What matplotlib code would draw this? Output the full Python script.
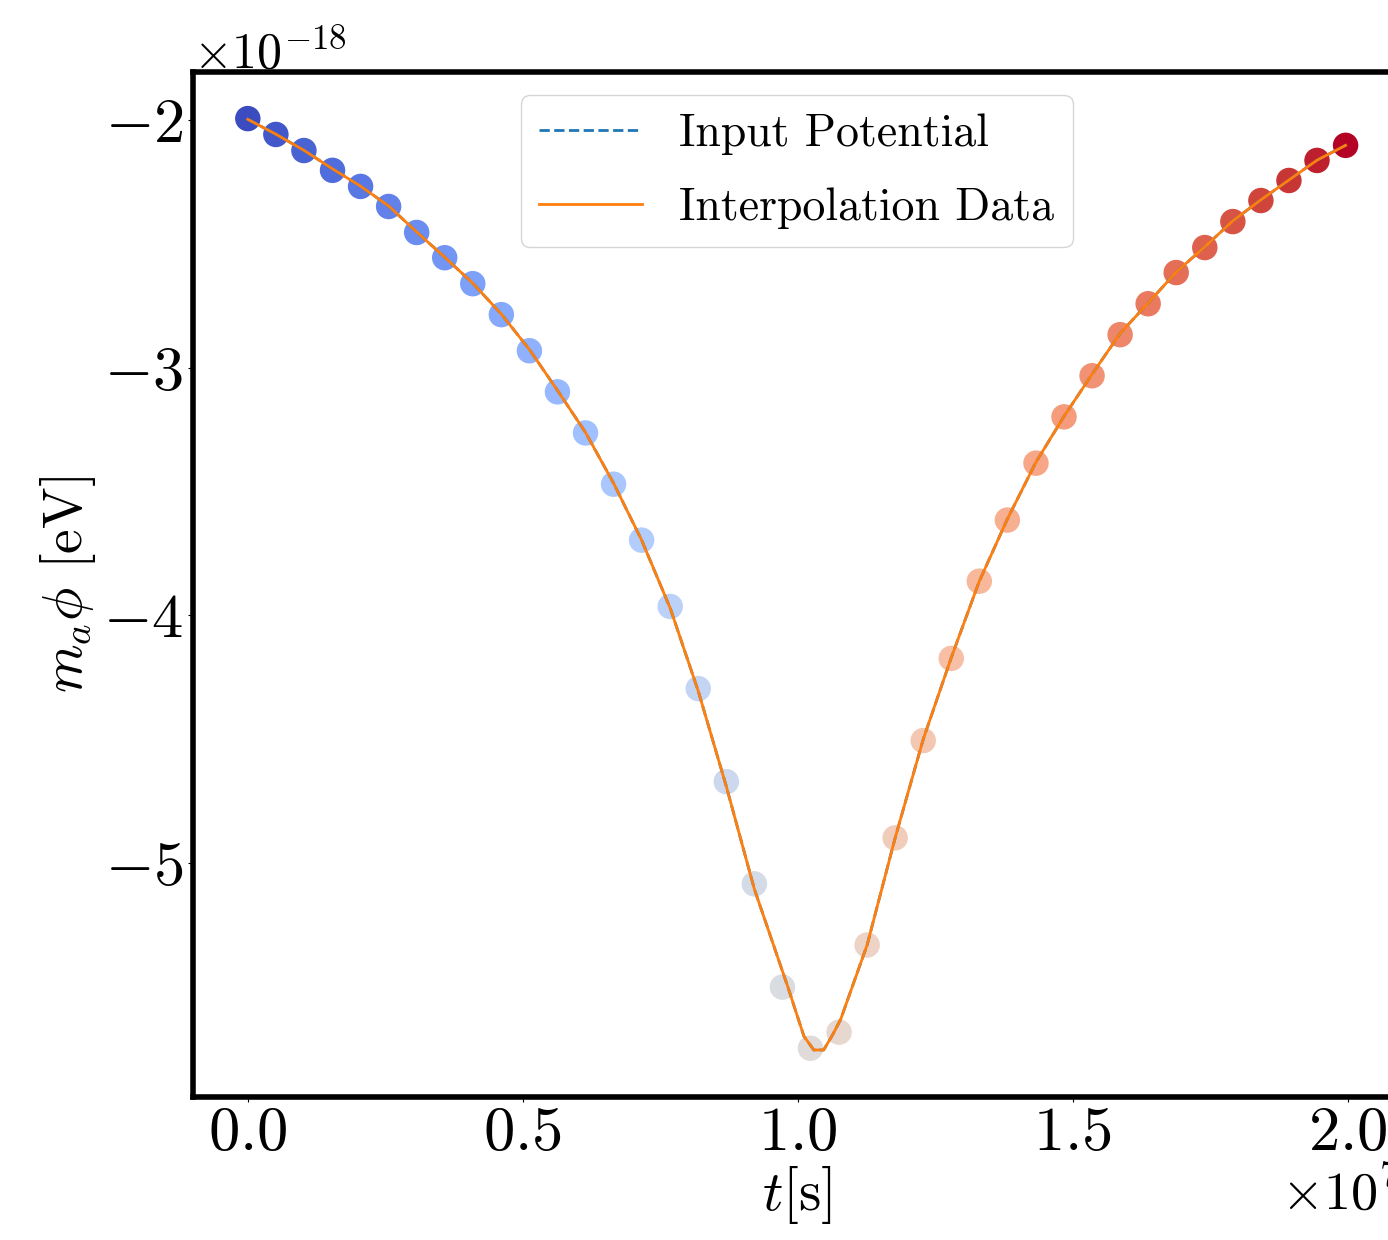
import numpy as np
import matplotlib
matplotlib.use("Agg")
import matplotlib.pyplot as plt

plt.rcParams['font.family'] = ['cmr10', 'DejaVu Serif']
plt.rcParams['mathtext.fontset'] = 'cm'
plt.rcParams['axes.formatter.use_mathtext'] = True
plt.rcParams['axes.unicode_minus'] = True

# sample points (t in units of 1e7 s, phi in units of 1e-18 eV)
t_pts = [0.000, 0.051, 0.102, 0.154, 0.205, 0.256, 0.307, 0.358, 0.409, 0.461,
         0.512, 0.563, 0.614, 0.665, 0.716, 0.768, 0.819, 0.870, 0.921, 0.972,
         1.023, 1.075, 1.126, 1.177, 1.228, 1.279, 1.330, 1.381, 1.433, 1.484,
         1.535, 1.586, 1.637, 1.688, 1.740, 1.791, 1.842, 1.893, 1.944, 1.996]
phi_pts = [-1.993, -2.057, -2.122, -2.202, -2.267, -2.348, -2.453, -2.555, -2.660, -2.785,
           -2.931, -3.097, -3.263, -3.470, -3.696, -3.964, -4.296, -4.672, -5.085, -5.502,
           -5.749, -5.684, -5.332, -4.899, -4.506, -4.174, -3.862, -3.615, -3.385, -3.198,
           -3.032, -2.866, -2.741, -2.615, -2.514, -2.409, -2.324, -2.243, -2.162, -2.101]

# curves
t_line = [0.000, 0.051, 0.102, 0.154, 0.205, 0.256, 0.307, 0.358, 0.409, 0.461,
          0.512, 0.563, 0.614, 0.665, 0.716, 0.768, 0.819, 0.870, 0.921, 0.982,
          1.011, 1.029, 1.047, 1.064, 1.078, 1.126, 1.177, 1.228, 1.279, 1.330,
          1.381, 1.433, 1.484, 1.535, 1.586, 1.637, 1.688, 1.740, 1.791, 1.842,
          1.893, 1.944, 1.996]
phi_input = [-1.996, -2.056, -2.121, -2.196, -2.266, -2.346, -2.451, -2.553, -2.658, -2.783,
             -2.926, -3.091, -3.261, -3.466, -3.696, -3.971, -4.306, -4.691, -5.106, -5.502,
             -5.700, -5.756, -5.756, -5.692, -5.632, -5.332, -4.899, -4.501, -4.171, -3.862,
             -3.611, -3.381, -3.196, -3.026, -2.861, -2.738, -2.613, -2.511, -2.406, -2.321,
             -2.241, -2.161, -2.101]
phi_interp = list(phi_input)

t_pts = np.array(t_pts) * 1e7
phi_pts = np.array(phi_pts) * 1e-18
t_line = np.array(t_line) * 1e7
phi_input = np.array(phi_input) * 1e-18
phi_interp = np.array(phi_interp) * 1e-18

fig = plt.figure(figsize=(13.88, 12.4), dpi=100)
ax = fig.add_axes([0.139, 0.1157, 0.8700, 0.8262])

ax.scatter(t_pts, phi_pts, c=np.arange(len(t_pts)), cmap='coolwarm', s=300, zorder=1)
ax.plot(t_line, phi_input, '--', color='tab:blue', lw=2, label='Input Potential', zorder=2)
ax.plot(t_line, phi_interp, '-', color='tab:orange', lw=2, label='Interpolation Data', zorder=3)

ax.set_xlabel(r'$t$[s]', fontsize=41, labelpad=2)
ax.set_ylabel(r'$m_a\phi$ [eV]', fontsize=40)
ax.tick_params(labelsize=45)
ax.xaxis.get_offset_text().set_fontsize(39)
ax.yaxis.get_offset_text().set_fontsize(36)
for sp in ax.spines.values():
    sp.set_linewidth(4)

ax.legend(loc='upper center', fontsize=33, handlelength=2.25, labelspacing=0.7)

fig.savefig('out.png', dpi=100)
